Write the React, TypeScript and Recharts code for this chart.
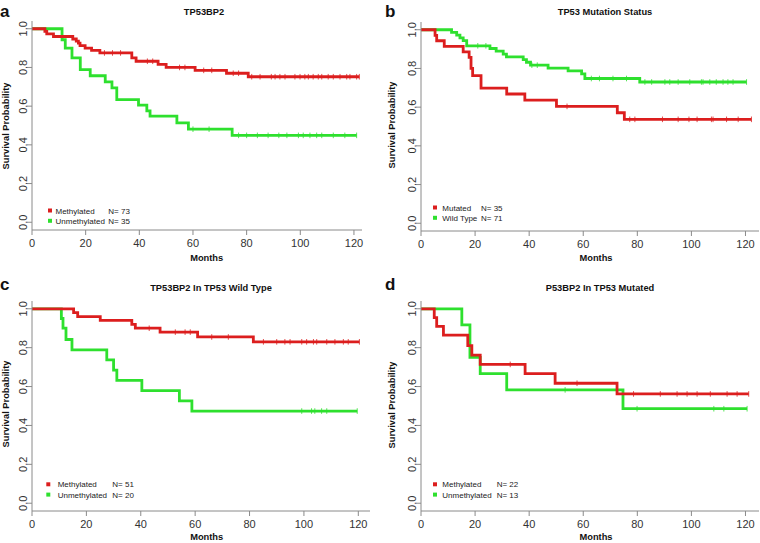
import React from 'react';
import { LineChart, Line, XAxis, YAxis } from 'recharts';

// panel a: TP53BP2
const aMethTimes = [0, 4.8, 5.5, 8, 15.2, 16.5, 17.3, 17.9, 19.8, 22.2, 25.3, 37.2, 38.8, 47, 50, 60.8, 72.5, 80.6];
const aMethSurv = [1, 0.986, 0.973, 0.96, 0.947, 0.936, 0.926, 0.913, 0.9, 0.888, 0.875, 0.849, 0.832, 0.816, 0.8, 0.785, 0.77, 0.752];
const aMethCensor = [27, 30, 33, 43, 45, 55, 57, 64, 67, 75, 77, 81.9, 85, 89.2, 90.6, 92.4, 94.3, 98, 99.9, 101.7, 103, 104.8, 106.7, 108, 110.4, 112.3, 114.8, 117.3, 118.5, 121, 122];
const aUnTimes = [0, 11.2, 12.4, 14.9, 18, 21.7, 27.3, 29.8, 31.6, 39.7, 42.8, 44, 54, 58.3, 74.6];
const aUnSurv = [1, 0.943, 0.9, 0.849, 0.789, 0.757, 0.725, 0.694, 0.634, 0.605, 0.576, 0.548, 0.514, 0.481, 0.449];
const aUnCensor = [60, 66, 77, 80, 84, 88, 92, 95, 99.3, 101.1, 103.6, 106.1, 108, 112.3, 116.6, 121];

// panel b: TP53 mutation status
const bMutTimes = [0, 5.2, 5.8, 8.6, 15.6, 17.8, 18.5, 19.1, 22.2, 31.7, 38.4, 50.1, 72.6, 75.2];
const bMutSurv = [1, 0.971, 0.943, 0.914, 0.886, 0.857, 0.8, 0.763, 0.698, 0.668, 0.636, 0.604, 0.571, 0.537];
const bMutCensor = [54, 77.2, 79.1, 89.3, 95.1, 99.1, 102.1, 107.4, 108, 113, 117.3, 122.2];
const bWtTimes = [0, 11.3, 13.2, 14.4, 15.6, 16.9, 25.5, 27.8, 30.4, 31.6, 37.8, 39, 40.5, 47, 54.4, 59.4, 60.6, 80.9];
const bWtSurv = [1, 0.986, 0.972, 0.958, 0.944, 0.917, 0.903, 0.889, 0.874, 0.86, 0.846, 0.832, 0.817, 0.802, 0.787, 0.772, 0.748, 0.73];
const bWtCensor = [21, 24, 41, 43, 63, 66, 71, 76, 82.8, 85.3, 90.2, 92, 95.1, 99.4, 103.7, 104.3, 106.8, 109.2, 111.7, 113.5, 115.4, 120.4];

// panel c: TP53BP2 in TP53 wild type
const cMethTimes = [0, 15.3, 16.8, 25.1, 36.7, 38, 47.1, 60.9, 81.4];
const cMethSurv = [1, 0.98, 0.96, 0.94, 0.92, 0.9, 0.88, 0.855, 0.83];
const cMethCensor = [43.1, 52.7, 56.3, 58.2, 66.1, 72.2, 85.1, 90, 93, 94.9, 99.2, 101, 103.5, 104.7, 108.4, 111.4, 114.5, 116.3, 120.4];
const cUnTimes = [0, 10.8, 11.4, 12.5, 14.7, 27.5, 30, 31.2, 40.4, 54.2, 58.8];
const cUnSurv = [1, 0.95, 0.9, 0.842, 0.789, 0.737, 0.684, 0.632, 0.579, 0.526, 0.474];
const cUnCensor = [99.2, 102.8, 104, 106.5, 108.4, 119.6];

// panel d: P53BP2 in TP53 mutated
const dMethTimes = [0, 4.9, 5.8, 8.3, 17.3, 18.8, 21.9, 38.5, 49.6, 72.5];
const dMethSurv = [1, 0.955, 0.909, 0.864, 0.81, 0.762, 0.714, 0.667, 0.617, 0.562];
const dMethCensor = [33, 57.7, 78.6, 88.5, 94.7, 98.4, 102.1, 107, 113.2, 116.9, 121.2];
const dUnTimes = [0, 15.1, 18.1, 21.9, 31.7, 74.7];
const dUnSurv = [1, 0.917, 0.75, 0.667, 0.583, 0.486];
const dUnCensor = [53.3, 79.9, 108.3, 112, 120.6];

const xTicks = [0, 20, 40, 60, 80, 100, 120];
const yTicks = [0, 0.2, 0.4, 0.6, 0.8, 1.0];

const RED = '#dc1e1e';
const GREEN = '#2ee02e';
const AXIS = '#8a8a8a';
const FONT = '"Liberation Sans", Arial, Helvetica, sans-serif';

type Pt = { t: number; s: number; c?: boolean };

// step points plus censored observations sitting on the current step
function kmPoints(times: number[], surv: number[], censored: number[]): Pt[] {
  const pts: Pt[] = times.map((t, i) => ({ t, s: surv[i] }));
  censored.forEach((ct) => {
    let s = 1;
    times.forEach((t, i) => {
      if (t <= ct) s = surv[i];
    });
    pts.push({ t: ct, s, c: true });
  });
  return pts.sort((p, q) => p.t - q.t);
}

const CensorMark = (props: any) => {
  const { cx, cy, payload, stroke, index } = props;
  if (!payload || !payload.c) return <g key={`n-${index}`} />;
  return <line key={`c-${index}`} x1={cx} x2={cx} y1={cy - 2.8} y2={cy + 2.8} stroke={stroke} strokeWidth={1} strokeOpacity={0.8} />;
};

const YTick = (props: any) => {
  const { x, y, payload } = props;
  return (
    <text x={x} y={y} transform={`rotate(-90, ${x}, ${y})`} textAnchor="middle" fontSize={11} fill="#333" fontFamily={FONT}>
      {Number(payload.value).toFixed(1)}
    </text>
  );
};

type Curve = { name: string; color: string; data: Pt[] };

type PanelProps = {
  left: number;
  top: number;
  width: number;
  height: number;
  plotLeft: number;
  plotRight: number;
  plotTop: number;
  plotBottom: number;
  xMax: number;
  curves: Curve[];
};

const Panel = ({ left, top, width, height, plotLeft, plotRight, plotTop, plotBottom, xMax, curves }: PanelProps) => (
  <div style={{ position: 'absolute', left, top }}>
    <LineChart width={width} height={height} margin={{ top: plotTop, right: width - plotRight, bottom: 0, left: 0 }}>
      <XAxis
        xAxisId="b"
        type="number"
        dataKey="t"
        domain={[0, xMax]}
        allowDataOverflow
        ticks={xTicks}
        height={height - plotBottom}
        stroke={AXIS}
        tickSize={5}
        tickMargin={4}
        tick={{ fontSize: 11, fill: '#333', fontFamily: FONT }}
      />
      <XAxis xAxisId="t" orientation="top" type="number" domain={[0, xMax]} tick={false} tickLine={false} height={0} stroke={AXIS} />
      <YAxis
        yAxisId="l"
        type="number"
        domain={[-0.04, 1.04]}
        allowDataOverflow
        ticks={yTicks}
        width={plotLeft}
        stroke={AXIS}
        tickSize={5}
        tickMargin={0}
        tick={<YTick />}
      />
      <YAxis yAxisId="r" orientation="right" type="number" domain={[-0.04, 1.04]} tick={false} tickLine={false} width={0} stroke={AXIS} />
      {curves.map((c) => (
        <Line
          key={c.name}
          xAxisId="b"
          yAxisId="l"
          data={c.data}
          dataKey="s"
          type="stepAfter"
          stroke={c.color}
          strokeWidth={2.8}
          dot={CensorMark}
          activeDot={false}
          isAnimationActive={false}
        />
      ))}
    </LineChart>
  </div>
);

const Legend2 = ({ x, y, textX, nX, rows }: { x: number; y: number; textX: number; nX: number; rows: { color: string; label: string; n: string }[] }) => (
  <g fontFamily={FONT} fontSize={8} fill="#222">
    {rows.map((r, i) => (
      <g key={r.label}>
        <rect x={x - 2} y={y + i * 10.3 - 2} width={4} height={4} fill={r.color} />
        <text x={textX} y={y + i * 10.3 + 3}>{r.label}</text>
        <text x={nX} y={y + i * 10.3 + 3}>{r.n}</text>
      </g>
    ))}
  </g>
);

const Texts = ({ letter, lx, ly, title, tx, ty, ylx, yly, mx, my }: any) => (
  <g fontFamily={FONT} fontWeight="bold" fill="#111">
    <text x={lx} y={ly} fontSize={17}>{letter}</text>
    <text x={tx} y={ty} fontSize={9.3} textAnchor="middle">{title}</text>
    <text x={ylx} y={yly} fontSize={9.3} textAnchor="middle" transform={`rotate(-90, ${ylx}, ${yly})`}>Survival Probability</text>
    <text x={mx} y={my} fontSize={9.3} textAnchor="middle">Months</text>
  </g>
);

export default function App() {
  const aCurves: Curve[] = [
    { name: 'Unmethylated', color: GREEN, data: kmPoints(aUnTimes, aUnSurv, aUnCensor) },
    { name: 'Methylated', color: RED, data: kmPoints(aMethTimes, aMethSurv, aMethCensor) },
  ];
  const bCurves: Curve[] = [
    { name: 'Wild Type', color: GREEN, data: kmPoints(bWtTimes, bWtSurv, bWtCensor) },
    { name: 'Mutated', color: RED, data: kmPoints(bMutTimes, bMutSurv, bMutCensor) },
  ];
  const cCurves: Curve[] = [
    { name: 'Unmethylated', color: GREEN, data: kmPoints(cUnTimes, cUnSurv, cUnCensor) },
    { name: 'Methylated', color: RED, data: kmPoints(cMethTimes, cMethSurv, cMethCensor) },
  ];
  const dCurves: Curve[] = [
    { name: 'Unmethylated', color: GREEN, data: kmPoints(dUnTimes, dUnSurv, dUnCensor) },
    { name: 'Methylated', color: RED, data: kmPoints(dMethTimes, dMethSurv, dMethCensor) },
  ];

  return (
    <div style={{ position: 'absolute', left: 0, top: 0, width: 760, height: 543, background: '#fff' }}>
      <Panel left={0} top={0} width={380} height={270} plotLeft={32} plotRight={362} plotTop={21} plotBottom={230} xMax={123} curves={aCurves} />
      <Panel left={380} top={0} width={380} height={270} plotLeft={41} plotRight={379} plotTop={22} plotBottom={231} xMax={125} curves={bCurves} />
      <Panel left={0} top={272} width={380} height={271} plotLeft={32} plotRight={370} plotTop={29} plotBottom={239} xMax={124.3} curves={cCurves} />
      <Panel left={380} top={272} width={380} height={271} plotLeft={41} plotRight={379} plotTop={29} plotBottom={239} xMax={125} curves={dCurves} />
      <svg width={760} height={543} style={{ position: 'absolute', left: 0, top: 0, pointerEvents: 'none' }}>
        <Texts letter="a" lx={0} ly={17} title="TP53BP2" tx={204} ty={15} ylx={8.5} yly={126} mx={206.7} my={260.7} />
        <Texts letter="b" lx={385} ly={17} title="TP53 Mutation Status" tx={605} ty={14.5} ylx={395} yly={125} mx={596} my={260.7} />
        <Texts letter="c" lx={0} ly={290} title="TP53BP2 In TP53 Wild Type" tx={211} ty={290.5} ylx={8.5} yly={404} mx={206.7} my={540.3} />
        <Texts letter="d" lx={385} ly={290} title="P53BP2 In TP53 Mutated" tx={600} ty={290.5} ylx={395} yly={405} mx={596} my={540.3} />
        <Legend2 x={50} y={210.5} textX={55.5} nX={108.3}
          rows={[{ color: RED, label: 'Methylated', n: 'N= 73' }, { color: GREEN, label: 'Unmethylated', n: 'N= 35' }]} />
        <Legend2 x={435} y={207.5} textX={442.3} nX={481}
          rows={[{ color: RED, label: 'Mutated', n: 'N= 35' }, { color: GREEN, label: 'Wild Type', n: 'N= 71' }]} />
        <Legend2 x={48.3} y={484.3} textX={57.7} nX={112.3}
          rows={[{ color: RED, label: 'Methylated', n: 'N= 51' }, { color: GREEN, label: 'Unmethylated', n: 'N= 20' }]} />
        <Legend2 x={435} y={484.3} textX={442.3} nX={496.7}
          rows={[{ color: RED, label: 'Methylated', n: 'N= 22' }, { color: GREEN, label: 'Unmethylated', n: 'N= 13' }]} />
      </svg>
    </div>
  );
}
